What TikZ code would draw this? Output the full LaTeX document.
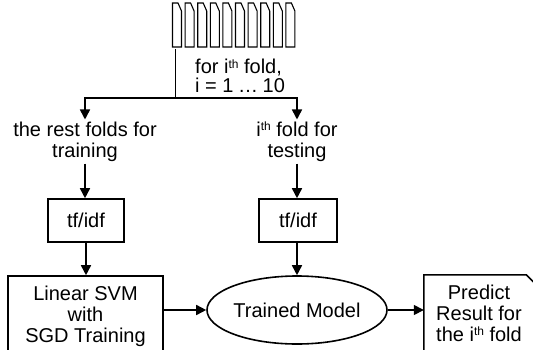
\documentclass[tikz,border=0pt]{standalone}
\usepackage{fontspec}
\setmainfont{Liberation Sans}
\usetikzlibrary{arrows.meta,shapes.geometric,calc}
\newcommand\supth{\raisebox{0.5ex}{\fontsize{12}{12}\selectfont th}}
\begin{document}
\begin{tikzpicture}[x=1pt,y=-1pt,
  every node/.style={font=\fontsize{20}{21}\selectfont},
  line/.style={line width=1.6pt},
  arr/.style={line, -{Triangle[length=10pt,width=10pt]}},
  box/.style={draw,line width=1.6pt,inner sep=0pt},
  lbl/.style={align=center,inner sep=2pt},
  foldshape/.style={draw,line width=1.1pt,line join=miter}]
\path[use as bounding box] (0,0) rectangle (533,349);
\clip (0,0) rectangle (533,349);
% folds
\foreach \i in {0,...,9}{
  \draw[foldshape] ({172.5+12.6*\i},47) -- ++(0,-44) -- ++(5.5,0) -- ++(3.5,8) -- ({172.5+12.6*\i+9},47) -- cycle;
}
\coordinate (top) at (175.5,49);
\coordinate (junc) at (175.5,98);
\node[anchor=west,align=left,inner sep=0pt,font=\fontsize{20}{19}\selectfont] (foldlbl) at (195,76) {for i\supth{} fold,\\i = 1 \kern-1pt…\kern-1pt{} 10};
% branch labels
\node[lbl] (train) at (85,141.5) {the rest folds for\\training};
\node[lbl] (test) at (297,141.5) {i\supth{} fold for\\testing};
% tf/idf boxes
\node[box,minimum width=76pt,minimum height=43pt] (tfl) at (86,220.5) {tf/idf};
\node[box,minimum width=78pt,minimum height=43pt] (tfr) at (298,220.5) {tf/idf};
% bottom row
\node[box,align=center,minimum width=155pt,minimum height=80pt] (svm) at (85.5,316) {Linear SVM\\with\\SGD Training};
\node[draw,ellipse,line width=1.6pt,inner sep=0pt,minimum width=180pt,minimum height=68pt] (model) at (297,310) {Trained Model};
\node[align=center,inner sep=0pt,minimum width=110pt,minimum height=76pt] (pred) at (479,313) {Predict\\Result for\\the i\supth{} fold};
\draw[line] (pred.south west) -- (pred.north west) -- ($(pred.north east)+(-8,0)$) -- ($(pred.north east)+(0,8)$) -- (pred.south east);
% connectors
\draw[line] (top) -- (junc);
\draw[arr] (junc) -| (train.north);
\draw[arr] (junc) -| (test.north);
\draw[arr] (train.south) -- (train.south |- tfl.north);
\draw[arr] (test.south) -- (test.south |- tfr.north);
\draw[arr] (tfl.south) -- (tfl.south |- svm.north);
\draw[arr] (test.south |- tfr.south) -- (model.north);
\draw[arr] (svm.east |- model.west) -- (model.west);
\draw[arr] (model.east) -- (model.east -| pred.west);
\end{tikzpicture}
\end{document}
